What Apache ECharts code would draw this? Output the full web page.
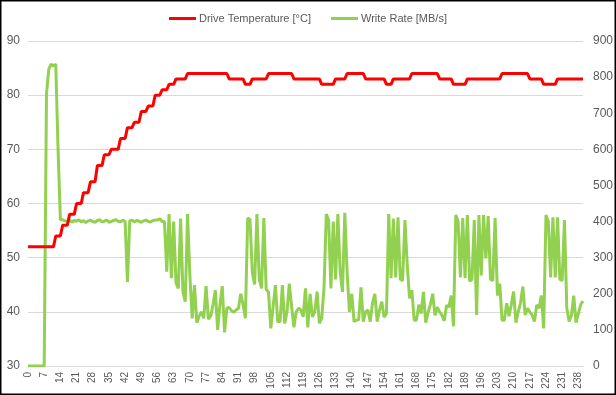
<!DOCTYPE html>
<html>
<head>
<meta charset="utf-8">
<script src="https://cdn.jsdelivr.net/npm/echarts@6/dist/echarts.min.js"></script>
<style>
html,body{margin:0;padding:0;background:#fff;}
#c{width:616px;height:395px;}
</style>
</head>
<body>
<div id="c"></div>
<script>
// Temperature [°C], one value per sample 0..240
const temperature = [
  52,52,52,52,52,52,52,52,52,52,52,52,
  54,54,54, 56,56,56, 58,58,58, 60,60,60, 62,62,62, 64,64,64, 67,67,67, 69,69,69,
  70,70,70,70,
  72,72,72, 74,74,74, 75,75,75, 77,77,77, 78,78,78, 80,80,80, 81,81,81, 82,82,82,
  83,83,83,83,83,
  84,84,84,84,84,84,84,84,84,84,84,84,84,84,84,84,84,84,
  83,83,83,83,83,83,83,
  82,82,82,
  83,83,83,83,83,83,83,
  84,84,84,84,84,84,84,84,84,84,84,
  83,83,83,83,83,83,83,83,83,83,83,83,
  82,82,82,82,82,82,
  83,83,83,83,83,
  84,84,84,84,84,84,84,84,
  83,83,83,83,83,83,83,83,83,
  82,82,82,
  83,83,83,83,83,83,83,83,
  84,84,84,84,84,84,84,84,84,84,84,84,
  83,83,83,83,83,83,
  82,82,82,82,82,82,
  83,83,83,83,83,83,83,83,83,83,83,83,83,83,83,
  84,84,84,84,84,84,84,84,84,84,84,84,
  83,83,83,83,83,83,
  82,82,82,82,82,82,
  83,83,83,83,83,83,83,83,83,83,83,83
];

// Write rate [MB/s], one value per sample 0..240
const writeRate = [
  0,0,0,0,0,0,0,0,755,822,
  836,830,836,600,405,405,402,400,404,398,
  403,401,405,399,403,397,402,404,400,398,
  403,405,399,401,404,398,400,403,405,401,
  399,404,400,233,402,404,399,403,401,398,
  402,404,400,399,403,404,404,408,400,400,
  261,421,243,400,230,215,408,206,178,421,
  250,132,224,120,138,150,132,221,130,138,
  169,210,100,169,221,93,160,162,153,149,
  155,160,200,170,132,410,405,260,226,421,
  240,215,410,212,205,104,165,224,123,123,
  224,118,150,228,165,107,150,160,155,136,
  215,107,200,136,150,206,118,132,215,421,
  404,215,400,240,421,260,205,424,260,150,
  200,123,127,128,218,123,150,155,123,175,
  200,123,155,178,135,145,421,243,408,245,
  412,240,236,404,280,187,210,127,127,170,
  145,205,120,148,170,200,140,163,150,141,
  125,168,163,195,110,418,400,245,410,243,
  418,235,240,404,141,418,251,418,298,415,
  240,236,410,195,228,127,127,174,138,170,
  206,120,150,175,220,141,160,150,141,123,
  169,160,195,104,418,400,245,412,245,412,
  240,236,404,160,123,140,195,120,145,170,
  180
];

// Category labels: sample numbers
const samples = writeRate.map((_, i) => String(i));

const leftTicks = {min: 30, max: 90, interval: 10};
const rightTicks = {min: 0, max: 900, interval: 100};

const chart = echarts.init(document.getElementById('c'), null, {renderer: 'canvas'});
const txt = '#595959';
const font = 'Liberation Sans';
chart.setOption({
  animation: false,
  backgroundColor: '#fff',
  textStyle: {fontFamily: font},
  legend: {
    top: 8,
    left: 'center',
    itemWidth: 27,
    itemHeight: 3,
    itemGap: 20,
    icon: 'rect',
    textStyle: {color: txt, fontSize: 11, fontFamily: font, padding: [0,0,0,-2]},
    data: ['Drive Temperature [°C]', 'Write Rate [MB/s]']
  },
  grid: {left: 28, right: 33, top: 41, bottom: 29, containLabel: false},
  xAxis: {
    type: 'category',
    data: samples,
    boundaryGap: false,
    axisLine: {lineStyle: {color: '#D9D9D9', width: 1}},
    axisTick: {show: false},
    axisLabel: {interval: 6, rotate: 90, color: txt, fontSize: 10, fontFamily: font, margin: 6}
  },
  yAxis: [
    {
      type: 'value', min: leftTicks.min, max: leftTicks.max, interval: leftTicks.interval,
      axisLine: {show: false}, axisTick: {show: false},
      axisLabel: {color: txt, fontSize: 12, fontFamily: font, margin: 8},
      splitLine: {lineStyle: {color: '#D9D9D9', width: 1}}
    },
    {
      type: 'value', min: rightTicks.min, max: rightTicks.max, interval: rightTicks.interval,
      position: 'right',
      axisLine: {show: false}, axisTick: {show: false},
      axisLabel: {color: txt, fontSize: 12, fontFamily: font, margin: 10},
      splitLine: {show: false}
    }
  ],
  series: [
    {
      name: 'Drive Temperature [°C]', type: 'line', yAxisIndex: 0,
      data: temperature, symbol: 'none', z: 3,
      lineStyle: {color: '#FF0000', width: 3}, itemStyle: {color: '#FF0000'}
    },
    {
      name: 'Write Rate [MB/s]', type: 'line', yAxisIndex: 1,
      data: writeRate, symbol: 'none', z: 2,
      lineStyle: {color: '#92D050', width: 3}, itemStyle: {color: '#92D050'}
    }
  ],
  graphic: [{
    type: 'rect', silent: true, z: 100,
    shape: {x: 0.75, y: 0.75, width: 614.5, height: 393.5},
    style: {fill: null, stroke: '#000', lineWidth: 1.5}
  }]
});
</script>
</body>
</html>
